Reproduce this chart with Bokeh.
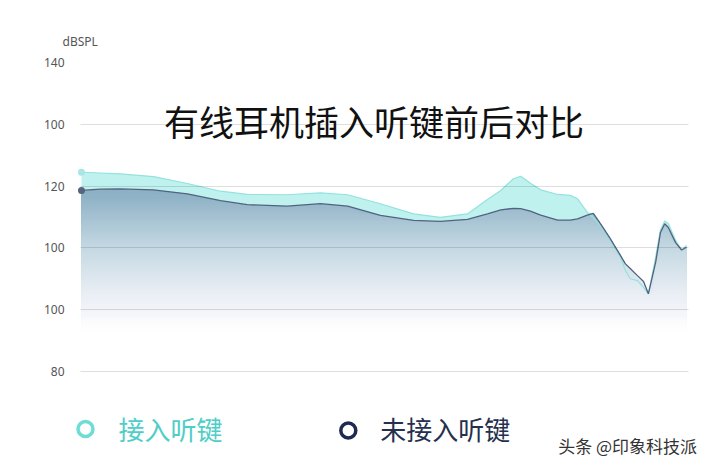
import numpy as np
from bokeh.plotting import figure
from bokeh.models import Range1d, FixedTicker, Label, Title
from bokeh.core.properties import value
from bokeh.embed import file_html
from bokeh.resources import INLINE

title_text = "有线耳机插入听键前后对比"
unit_label = "dBSPL"
series_names = ["接入听键", "未接入听键"]
tick_positions = [80, 100, 120, 140, 160, 180]
tick_labels = ["80", "100", "100", "120", "100", "140"]
grid_positions = [80, 100, 120, 140, 160]
watermark = "头条 @印象科技派"

pos = [0.0, 3.1, 6.4, 11.9, 17.5, 23.0, 27.4, 34.0, 39.5, 44.0, 49.4, 54.9, 59.3,
       63.8, 67.1, 69.3, 71.4, 72.6, 74.2, 75.9, 78.7, 80.8, 82.0, 83.6, 84.6,
       85.8, 87.4, 89.1, 89.9, 90.7, 91.9, 92.9, 93.7, 94.9, 95.7, 96.4, 97.0,
       98.2, 99.2, 100.0]

with_key = [144.5, 144.25, 144.0, 143.1, 140.85, 138.35, 137.3, 137.2, 137.8, 137.2,
            134.3, 131.0, 129.9, 131.0, 135.7, 138.6, 142.4, 143.2, 140.9, 138.8,
            137.3, 137.0, 135.9, 131.5, 129.7, 127.2, 122.4, 117.0, 112.7, 110.0,
            109.4, 107.2, 105.1, 117.0, 125.9, 128.7, 127.9, 122.4, 119.3, 120.8]

without_key = [138.6, 139.0, 139.1, 138.8, 137.5, 135.3, 134.0, 133.5, 134.3, 133.5,
               130.5, 128.9, 128.6, 129.2, 131.0, 132.3, 132.8, 132.7, 131.9, 130.6,
               129.0, 129.0, 129.4, 130.6, 131.2, 127.8, 123.0, 117.5, 114.8, 113.3,
               111.0, 109.1, 105.1, 115.3, 125.0, 127.8, 126.6, 121.7, 119.3, 120.2]

CYAN_LINE = "#93e2dd"
CYAN_FILL = "#bff2ef"
DARK_LINE = "#52637f"

wk = np.array(with_key)
wo = np.array(without_key)

p = figure(width=720, height=466, x_range=Range1d(-1.157, 104.63), y_range=Range1d(50.45, 182),
           output_backend="svg", toolbar_location=None, x_axis_type=None,
           min_border_left=74, min_border_right=6, min_border_top=56, min_border_bottom=4)
p.outline_line_color = None
p.background_fill_color = "white"
p.border_fill_color = "white"
p.xgrid.visible = False

ax = p.yaxis[0]
ax.ticker = FixedTicker(ticks=tick_positions)
ax.major_label_overrides = {t: l for t, l in zip(tick_positions, tick_labels)}
ax.axis_line_color = None
ax.major_tick_line_color = None
ax.minor_tick_line_color = None
ax.major_label_standoff = 4
ax.major_label_text_font = "Noto Sans"
ax.major_label_text_font_size = "12px"
ax.major_label_text_color = "#555555"

g = p.ygrid[0]
g.ticker = FixedTicker(ticks=grid_positions)
g.cross_bounds = (pos[0] - 0.165, 100.33)
g.grid_line_color = "black"
g.grid_line_alpha = 0.13
g.level = "guide"

# gradient under the "without" series: stacked areas clipped to the curve
stops_v = [93.0, 96.5, 100.0, 106.2, 120.4, 137.0, 140.0]
stops_c = [(255, 255, 255), (251, 251, 253), (243, 244, 250), (232, 237, 244),
           (196, 216, 226), (143, 178, 198), (138, 174, 195)]
n = 80
tops = np.linspace(140.0, 93.0, n)
for t in tops:
    rgb = tuple(int(round(np.interp(t, stops_v, [c[k] for c in stops_c]))) for k in range(3))
    p.varea(x=pos, y1=[92.5] * len(pos), y2=np.minimum(wo, t), fill_color="#%02x%02x%02x" % rgb)

# cyan region above the dark curve
p.varea(x=pos, y1=wo, y2=np.maximum(wk, wo), fill_color=CYAN_FILL)

p.line(pos, wk, line_color=CYAN_LINE, line_width=1.2)
p.line(pos, wo, line_color=DARK_LINE, line_width=1.3)
p.scatter([pos[0]], [with_key[0]], size=7, fill_color="#a9e5e3", line_color=None)
p.scatter([pos[0]], [without_key[0]], size=7, fill_color="#56647f", line_color=None)

p.add_layout(Label(x=48.35, y=161.3, text=title_text, text_align="center", text_baseline="middle",
                   text_font="Noto Sans CJK SC", text_font_size="35px", text_color="#111111"))
p.add_layout(Title(text=unit_label, align="left", offset=-12, standoff=14,
                   text_font="Noto Sans", text_font_size="12px", text_font_style="normal",
                   text_color="#555555"), "above")

# legend (drawn inside the frame area below the chart)
p.scatter(x=[0.66, 44.1], y=[61.3, 60.8], size=15, marker="circle", fill_color=None,
          line_color=["#6fdcd6", "#1f2a52"], line_width=3.5)
p.text(x=[6.1, 49.4], y=[61.5, 61.5], text=series_names, text_font=value("Noto Sans CJK SC"),
       text_font_size=value("26px"), text_color=["#4fcec7", "#26304d"], text_baseline="middle")
p.text(x=[78.8], y=[56.0], text=[watermark], text_font=value("Noto Sans CJK SC"),
       text_font_size=value("17px"), text_color="#333333", text_baseline="middle")

open("out.html", "w").write(file_html(p, INLINE))
